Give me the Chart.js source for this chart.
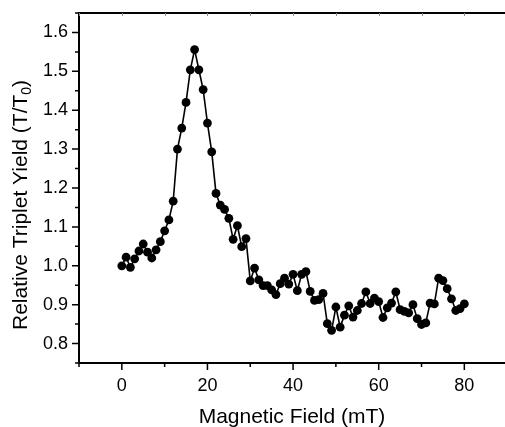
<!DOCTYPE html>
<html>
<head>
<meta charset="utf-8">
<script src="https://cdn.jsdelivr.net/npm/chart.js@4/dist/chart.umd.min.js"></script>
<style>
html, body { margin: 0; padding: 0; background: #fff; }
#wrap { width: 505px; height: 427px; }
</style>
</head>
<body>
<div id="wrap"><canvas id="grafico"></canvas></div>
<script>
// campo magnetico (mT) e rendimento relativo do tripleto (T/T0)
const campo = [0, 1, 2, 3, 4, 5, 6, 7, 8, 9, 10, 11, 12, 13, 14, 15, 16, 17, 18, 19,
  20, 21, 22, 23, 24, 25, 26, 27, 28, 29, 30, 31, 32, 33, 34, 35, 36, 37, 38, 39,
  40, 41, 42, 43, 44, 45, 46, 47, 48, 49, 50, 51, 52, 53, 54, 55, 56, 57, 58, 59,
  60, 61, 62, 63, 64, 65, 66, 67, 68, 69, 70, 71, 72, 73, 74, 75, 76, 77, 78, 79, 80];
const rendimento = [1.000, 1.022, 0.996, 1.018, 1.038, 1.056, 1.035, 1.020, 1.041, 1.062,
  1.090, 1.118, 1.166, 1.300, 1.354, 1.420, 1.504, 1.556, 1.504, 1.453,
  1.367, 1.293, 1.186, 1.156, 1.145, 1.122, 1.068, 1.103, 1.049, 1.070,
  0.961, 0.994, 0.964, 0.949, 0.949, 0.938, 0.926, 0.954, 0.968, 0.953,
  0.978, 0.936, 0.978, 0.985, 0.934, 0.911, 0.913, 0.929, 0.851, 0.834,
  0.894, 0.842, 0.873, 0.897, 0.868, 0.885, 0.903, 0.933, 0.903, 0.917,
  0.908, 0.867, 0.892, 0.904, 0.933, 0.887, 0.883, 0.879, 0.900, 0.864,
  0.849, 0.853, 0.904, 0.902, 0.968, 0.962, 0.941, 0.915, 0.885, 0.890, 0.902];
const rotulosX = [0, 20, 40, 60, 80];
const rotulosY = [0.8, 0.9, 1.0, 1.1, 1.2, 1.3, 1.4, 1.5, 1.6];

const fonte = '"Liberation Sans", Arial, Helvetica, sans-serif';

const temRotulo = (lista, v) => lista.some(r => Math.abs(r - v) < 1e-6);

// marcas dos eixos (maiores e menores) + borda de cima
const marcas = {
  id: 'marcas',
  afterDraw(chart) {
    const { ctx, chartArea: a, scales: { x, y } } = chart;
    ctx.save();
    ctx.strokeStyle = '#000';
    ctx.lineWidth = 1.5;
    ctx.beginPath();
    x.ticks.forEach(t => {
      const px = x.getPixelForValue(t.value);
      const len = temRotulo(rotulosX, t.value) ? 7 : 4;
      ctx.moveTo(px, a.bottom);
      ctx.lineTo(px, a.bottom + len);
    });
    y.ticks.forEach(t => {
      const py = y.getPixelForValue(t.value);
      const len = temRotulo(rotulosY, t.value) ? 7 : 4;
      ctx.moveTo(a.left, py);
      ctx.lineTo(a.left - len, py);
    });
    ctx.stroke();
    // borda de cima
    ctx.lineWidth = 2;
    ctx.beginPath();
    ctx.moveTo(a.left, a.top);
    ctx.lineTo(a.right, a.top);
    ctx.stroke();
    ctx.strokeStyle = '#888';
    ctx.lineWidth = 1;
    ctx.beginPath();
    x.ticks.forEach(t => {
      const px = Math.round(x.getPixelForValue(t.value)) + 0.5;
      ctx.moveTo(px, a.top);
      ctx.lineTo(px, a.top + 3);
    });
    ctx.stroke();
    ctx.restore();
  }
};

// titulo do eixo y com subscrito
const tituloY = {
  id: 'tituloY',
  afterDraw(chart) {
    const ctx = chart.ctx;
    const a = 'Relative Triplet Yield (T/T', b = '0', c = ')';
    ctx.save();
    ctx.translate(27, 330);
    ctx.rotate(-Math.PI / 2);
    ctx.fillStyle = '#000';
    ctx.textBaseline = 'alphabetic';
    ctx.textAlign = 'left';
    ctx.font = '21px ' + fonte;
    ctx.fillText(a, 0, 0);
    let w = ctx.measureText(a).width;
    ctx.font = '14px ' + fonte;
    ctx.fillText(b, w, 4);
    w += ctx.measureText(b).width;
    ctx.font = '21px ' + fonte;
    ctx.fillText(c, w, 0);
    ctx.restore();
  }
};

const ctx = document.getElementById('grafico').getContext('2d');
const meuGrafico = new Chart(ctx, {
  type: 'line',
  data: {
    datasets: [{
      data: campo.map((c, i) => ({ x: c, y: rendimento[i] })),
      borderColor: '#000',
      backgroundColor: '#000',
      borderWidth: 1.6,
      pointRadius: 4.4,
      pointBackgroundColor: '#000',
      pointBorderWidth: 0,
      tension: 0,
      fill: false
    }]
  },
  options: {
    responsive: true,
    maintainAspectRatio: false,
    animation: false,
    layout: { autoPadding: false, padding: { top: 13, right: 0, bottom: 0, left: 0 } },
    plugins: { legend: { display: false }, tooltip: { enabled: false } },
    scales: {
      x: {
        type: 'linear',
        min: -10,
        max: 89.5,
        afterFit: s => { s.height = 64; s.paddingRight = 0; s.paddingLeft = 0; },
        border: { display: true, color: '#000', width: 2 },
        grid: { display: true, drawOnChartArea: false, drawTicks: true, tickLength: 7, tickColor: 'rgba(0,0,0,0)' },
        ticks: {
          stepSize: 10,
          includeBounds: false,
          autoSkip: false,
          maxRotation: 0,
          padding: 5,
          color: '#000',
          font: { family: fonte, size: 18 },
          callback: v => temRotulo(rotulosX, v) ? String(Math.round(v)) : ''
        },
        title: {
          display: true,
          text: 'Magnetic Field (mT)',
          color: '#000',
          font: { family: fonte, size: 21 },
          padding: { top: 0, bottom: -3 }
        }
      },
      y: {
        type: 'linear',
        min: 0.75,
        max: 1.65,
        afterFit: s => { s.width = 79; s.paddingTop = 0; s.paddingBottom = 0; },
        border: { display: true, color: '#000', width: 2 },
        grid: { display: true, drawOnChartArea: false, drawTicks: true, tickLength: 7, tickColor: 'rgba(0,0,0,0)' },
        ticks: {
          stepSize: 0.05,
          autoSkip: false,
          padding: 4,
          color: '#000',
          font: { family: fonte, size: 18 },
          callback: v => temRotulo(rotulosY, v) ? v.toFixed(1) : ''
        }
      }
    }
  },
  plugins: [marcas, tituloY]
});
</script>
</body>
</html>
